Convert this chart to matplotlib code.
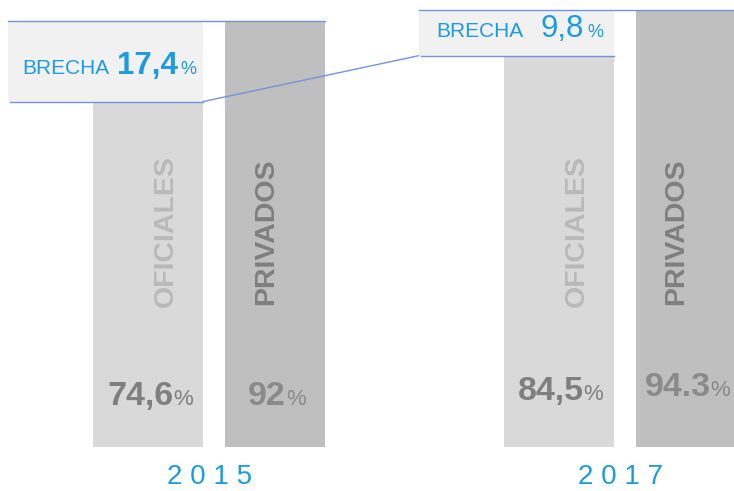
import matplotlib
matplotlib.use('Agg')
import matplotlib.pyplot as plt
from matplotlib.patches import Rectangle

plt.rcParams['font.family'] = ['Liberation Sans', 'DejaVu Sans']

# data
years = ['2015', '2017']
oficiales = [74.6, 84.5]
privados = [92.0, 94.3]
oficiales_txt = ['74,6', '84,5']
privados_txt = ['92', '94.3']
brecha_txt = ['17,4', '9,8']
categories = ['OFICIALES', 'PRIVADOS']

# colours
BLUE = '#1b9be0'
LINE = '#7393dc'
C_OFI = '#d9d9d9'
C_PRI = '#bfbfbf'
BOX = '#f1f1f1'

# layout (x axis is in pixels, y axis in percent)
group_x = [93, 503.5]
ofi_w, pri_off, pri_w = 110, 132, 100
box_off = -85
brecha_y = [80.6, 88.5]
brecha_gap = [[7, 3], [17, 3]]
brecha_bold = ['bold', 'normal']
value_y = [[9.1, 9.1], [10.1, 11.0]]

fig = plt.figure(figsize=(7.34, 4.91), dpi=100)
ax = fig.add_axes([0, 0, 1, 1])
ax.set_xlim(0, 734)
ax.set_ylim(-9.5, 96.54)
ax.axis('off')
renderer = fig.canvas.get_renderer()


def row_text(xc, y, parts, gaps):
    # put several text pieces next to each other, centred on xc
    texts, widths = [], []
    for s, size, weight, color in parts:
        t = ax.text(0, y, s, fontsize=size, fontweight=weight, color=color,
                    ha='left', va='baseline', zorder=5)
        widths.append(t.get_window_extent(renderer).width)
        texts.append(t)
    total = sum(widths) + sum(gaps)
    x = xc - total / 2
    for i, t in enumerate(texts):
        t.set_x(x)
        x += widths[i] + (gaps[i] if i < len(gaps) else 0)


for i, yr in enumerate(years):
    gx = group_x[i]
    ofi_c = gx + ofi_w / 2
    pri_c = gx + pri_off + pri_w / 2
    ax.bar(ofi_c, oficiales[i], width=ofi_w, color=C_OFI, zorder=1)
    ax.bar(pri_c, privados[i], width=pri_w, color=C_PRI, zorder=1)

    # brecha box
    bl = gx + box_off
    br = gx + ofi_w
    ax.add_patch(Rectangle((bl, oficiales[i]), br - bl, privados[i] - oficiales[i],
                           facecolor=BOX, edgecolor='none', zorder=2))
    ax.plot([bl, gx + pri_off + pri_w], [privados[i], privados[i]], color=LINE, lw=1, zorder=3)
    ax.plot([bl + 2, br], [oficiales[i], oficiales[i]], color=LINE, lw=1, zorder=3)

    row_text((bl + br) / 2 + 4, brecha_y[i],
             [('BRECHA', 15, 'normal', BLUE),
              (brecha_txt[i], 22.5, brecha_bold[i], BLUE),
              ('%', 13, 'normal', BLUE)], brecha_gap[i])

    # category names inside the bars
    ax.text(ofi_c + 18, 46.6, categories[0], rotation=90, fontsize=20.5,
            fontweight='bold', color='#b9b9b9', ha='center', va='center', zorder=4)
    ax.text(pri_c - 9, 46.6, categories[1], rotation=90, fontsize=20.5,
            fontweight='bold', color='#7f7f7f', ha='center', va='center', zorder=4)

    # values
    row_text(ofi_c + 2, value_y[i][0],
             [(oficiales_txt[i], 24.5, 'bold', '#7f7f7f'), ('%', 16, 'normal', '#7f7f7f')], [0])
    row_text(pri_c + 2, value_y[i][1],
             [(privados_txt[i], 24.5, 'bold', '#8a8a8a'), ('%', 16, 'normal', '#8a8a8a')], [0])

    # year
    ax.text(gx + (pri_off + pri_w) / 2 + 1, -7.9, ' '.join(yr), fontsize=20,
            color=BLUE, ha='center', va='baseline')

# connector between the two gaps
ax.plot([group_x[0] + ofi_w, group_x[1] + box_off], [oficiales[0], oficiales[1]],
        color=LINE, lw=1, zorder=3)

fig.savefig('out.png', dpi=100, facecolor='white')
